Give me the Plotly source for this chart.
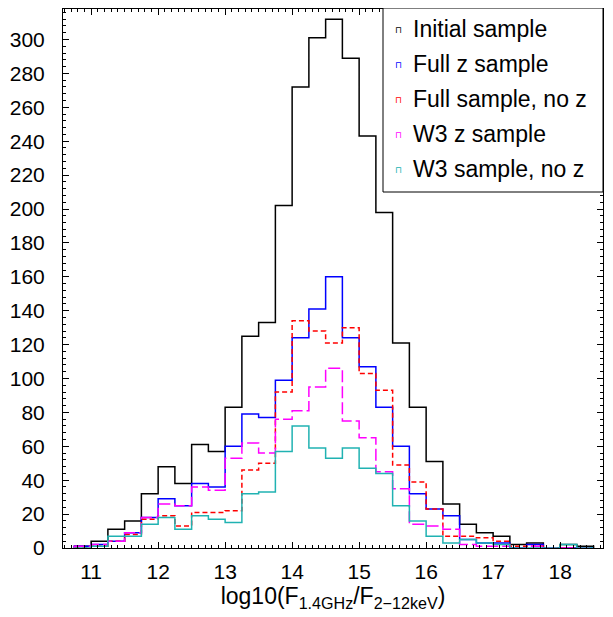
import plotly.graph_objects as go

# ---- data (counts per 0.25-wide bin, first bin starts at 10.75) ----
bin_start = 10.75
bin_width = 0.25

initial_sample = [1, 4, 11, 16, 32, 48, 38, 61, 57, 83, 125, 133, 202, 272, 301, 312,
                  289, 243, 198, 121, 83, 51, 26, 14, 9, 7, 2, 3, 0, 2, 1]
full_z_sample = [1, 2, 4, 9, 18, 29, 25, 38, 36, 60, 79, 77, 99, 124, 141, 160,
                 124, 107, 83, 60, 32, 23, 19, 5, 3, 3, 0, 2, 0, 0, 0]
full_sample_no_z = [0, 1, 4, 8, 17, 19, 13, 21, 21, 22, 46, 50, 92, 134, 128, 121,
                    130, 103, 93, 49, 39, 23, 7, 7, 6, 4, 1, 1, 0, 0, 0]
w3_z_sample = [1, 2, 4, 9, 18, 26, 25, 36, 34, 53, 62, 56, 76, 81, 95, 106,
               75, 65, 45, 35, 14, 13, 11, 2, 1, 1, 0, 1, 0, 0, 0]
w3_sample_no_z = [0, 1, 7, 7, 14, 18, 11, 19, 17, 15, 32, 33, 57, 72, 59, 53,
                  59, 47, 44, 25, 16, 7, 3, 5, 3, 2, 0, 0, 0, 2, 0]

series_names = ["Initial sample", "Full z sample", "Full sample, no z",
                "W3 z sample", "W3 sample, no z"]
series_values = [initial_sample, full_z_sample, full_sample_no_z,
                 w3_z_sample, w3_sample_no_z]
series_colors = ["#000000", "#0000ff", "#ff0000", "#ff00ff", "#20b2b2"]
series_dash = ["solid", "solid", "5px,3px", "12px,4px", "solid"]

x_tick_vals = [11, 12, 13, 14, 15, 16, 17, 18]
y_tick_step = 20

FONT = "Liberation Sans"

# ---- figure geometry (pixels); the page body adds an 8px offset ----
OFF = 8
W, H = 613 - OFF, 617 - OFF
ML, MR, MT, MB = 63 - OFF, 10, 1, 69
PW, PH = W - ML - MR, H - MT - MB


def px(xp):
    # page pixel -> paper coordinate
    return (xp - OFF - ML) / PW


def py(yp):
    return 1 - (yp - OFF - MT) / PH


fig = go.Figure()

for name, vals, col, dash in zip(series_names, series_values, series_colors, series_dash):
    n = len(vals)
    edges = [bin_start + bin_width * i for i in range(n + 1)]
    xs = [edges[0]] + edges + [edges[-1]]
    ys = [0] + list(vals) + [vals[-1], 0]
    fig.add_trace(go.Scatter(
        x=xs, y=ys, mode="lines", name=name,
        line=dict(color=col, width=1.5, dash=dash, shape="hv"),
        showlegend=False, hoverinfo="skip",
    ))

axis_common = dict(
    showline=True, linecolor="black", linewidth=1, mirror="ticks",
    ticks="inside", ticklen=6, tickcolor="black", tickwidth=1,
    showgrid=False, zeroline=False, automargin=False,
    tickfont=dict(family=FONT, size=21, color="black"),
)

fig.update_layout(
    width=W, height=H,
    margin=dict(l=ML, r=MR, t=MT, b=MB),
    paper_bgcolor="white", plot_bgcolor="white",
    font=dict(family=FONT, color="black"),
    xaxis=dict(
        range=[10.58, 18.64], tickvals=x_tick_vals,
        minor=dict(dtick=0.1, ticks="inside", ticklen=3, tickcolor="black", showgrid=False),
        ticklabelstandoff=5,
        title=dict(text="log10(F<sub>1.4GHz</sub>/F<sub>2\u221212keV</sub>)",
                   font=dict(family=FONT, size=23, color="black"), standoff=3),
        **axis_common,
    ),
    yaxis=dict(
        range=[0, 318], dtick=y_tick_step, tick0=0,
        minor=dict(dtick=4, ticks="inside", ticklen=3, tickcolor="black", showgrid=False),
        ticklabelstandoff=13,
        **axis_common,
    ),
    showlegend=False,
)

# ---- legend box drawn in paper coordinates ----
box_x0, box_x1, box_y0, box_y1 = 383, 603, 8, 192
fig.add_shape(type="rect", xref="paper", yref="paper",
              x0=px(box_x0), x1=px(box_x1), y0=py(box_y1), y1=py(box_y0),
              line=dict(color="black", width=1), fillcolor="white", layer="above")

row_y = [29, 64, 99, 134, 169]
for name, col, ry in zip(series_names, series_colors, row_y):
    fig.add_annotation(xref="paper", yref="paper", x=px(398), y=py(ry + 1),
                       text="\u2293", showarrow=False, xanchor="center", yanchor="middle",
                       font=dict(family="DejaVu Sans", size=9, color=col))
    fig.add_annotation(xref="paper", yref="paper", x=px(411), y=py(ry),
                       text=name, showarrow=False, xanchor="left", yanchor="middle",
                       font=dict(family=FONT, size=23, color="black"))

fig.write_html("out.html")
